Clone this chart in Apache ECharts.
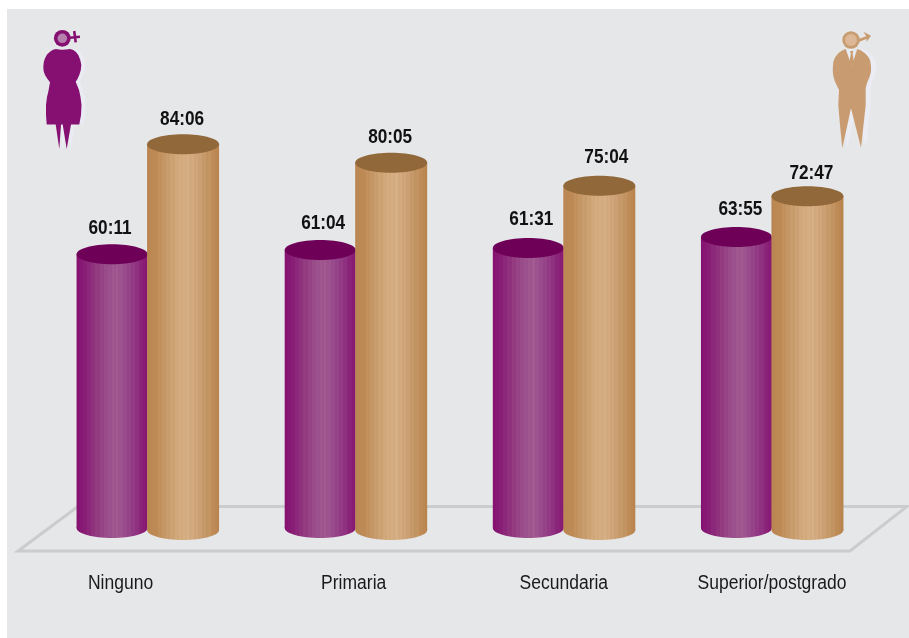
<!DOCTYPE html>
<html><head><meta charset="utf-8">
<style>html,body{margin:0;padding:0;background:#fff}#c{width:909px;height:638px}</style>
<script src="https://cdn.jsdelivr.net/npm/echarts@6/dist/echarts.min.js"></script>
</head><body><div id="c"></div>
<script>
var categories = ['Ninguno','Primaria','Secundaria','Superior/postgrado'];
var mujeresLabels = ['60:11','61:04','61:31','63:55'];
var hombresLabels = ['84:06','80:05','75:04','72:47'];
var mujeres = [60.18,61.07,61.52,63.92];
var hombres = [84.10,80.08,75.07,72.78];

var FONT = '"Liberation Sans",sans-serif';

// Layout nudges, separate from the data
var femaleNudge = {dx:[-2,3,3,4], dy:[-26,-27,-29,-27]};
var maleNudge   = {dx:[-1,-1,7,4], dy:[-25,-25,-28,-23]};
var categoryDx  = [-27,-2,0,0];

function hex(c){return [parseInt(c.substr(1,2),16),parseInt(c.substr(3,2),16),parseInt(c.substr(5,2),16)];}
function ridged(keys){
  var stops=[], steps=34, i;
  for(i=0;i<steps;i++){
    var t=(i+0.5)/steps*(keys.length-1), k=Math.min(Math.floor(t),keys.length-2), f=t-k;
    var a=hex(keys[k]), b=hex(keys[k+1]), d=(i>3&&i<steps-3)?(i%2?2:-2):0;
    var col='rgb('+[0,1,2].map(function(j){return Math.round(a[j]+(b[j]-a[j])*f+d);}).join(',')+')';
    stops.push({offset:i/steps,color:col});
    stops.push({offset:(i+1)/steps,color:col});
  }
  return {type:'linear',x:0,y:0,x2:1,y2:0,colorStops:stops};
}
var femaleKeys=['#841070','#8a2278','#923a80','#9a4e8a','#a0588f','#96468a','#8f3080','#861470'];
var maleKeys=['#b98450','#bf8d59','#c89c6b','#d1a97c','#d5ae83','#cca276','#c39361','#b8824c'];

function cylinder(values, labels, keys, topColor, side, baseLift, rx, nudge){
  var fill = ridged(keys);
  return function(params, api){
    var i = api.value(0);
    var top = api.coord([i, values[i]]);
    var base = api.coord([i, 0]);
    var cx = top[0] + side;
    var baseY = base[1] - baseLift;
    var ry = 10;
    return {type:'group',children:[
      {type:'ellipse',shape:{cx:cx,cy:baseY,rx:rx,ry:ry},style:{fill:fill}},
      {type:'rect',shape:{x:cx-rx,y:top[1],width:rx*2,height:baseY-top[1]},style:{fill:fill}},
      {type:'ellipse',shape:{cx:cx,cy:top[1],rx:rx,ry:ry},style:{fill:topColor}},
      {type:'text',x:cx+nudge.dx[i],y:top[1]+nudge.dy[i],scaleX:0.86,
        style:{text:labels[i],fill:'#111',font:'bold 20px '+FONT,align:'center',verticalAlign:'middle'}}
    ]};
  };
}

function categoryLabel(params, api){
  var i = api.value(0), p = api.coord([i, 0]);
  return {type:'text',x:p[0]+categoryDx[i],y:p[1]+52,scaleX:0.875,
    style:{text:categories[i],fill:'#1a1a1a',font:'20px '+FONT,align:'center',verticalAlign:'middle'}};
}

function pts(s){return s.trim().split(/\s+/).map(function(p){return p.split(',').map(Number);});}
function shift(arr,dx,dy){return arr.map(function(p){return [p[0]+dx,p[1]+dy];});}

var womanBody = pts('55.7,49 59,49.6 62.3,49.8 66,49.6 70,49 73.3,50 76,52 78.3,55 80.3,60 81.3,65 80.8,70 79.3,75 77.5,79 75.7,81.7 77,85 79,90 80.5,97 81.5,105 81,115 79.3,124.5 71,124.5 66.7,149 62.7,124.5 61,124.5 59.3,149 55.7,124.5 46.7,124.5 46,115 46,105 47,97 48.3,91.7 50,82.3 47.5,79 45,75 43.6,71 43.3,66.7 43.8,62 45,58.3 47,54.5 50,51.7 52.5,50');
var manBody = pts('845.7,49 851.7,66 857.3,49 861,50.5 865,53.3 868,56.5 870,60 871,66 871,71.7 869.5,77 867,83 865.7,88.3 865.7,105 863.5,125 861,147.7 851,108.3 842.3,148.3 840,125 838.3,105 839,90 835,81.7 833.3,76 832.7,70 833.3,61.7 835.3,57 838.3,53.3 842,50.5');
var tie = pts('850.2,51 853.2,51 852.6,54 854,62 851.7,66 849.4,62 850.8,54');
var FEMALE='#851072', MALE='#c89c70', SHADOW='#ebebf4';

var gender = [
  {type:'polygon',shape:{points:shift(womanBody,4,0)},style:{fill:SHADOW}},
  {type:'polygon',shape:{points:womanBody},style:{fill:FEMALE}},
  {type:'circle',shape:{cx:62.3,cy:38.3,r:8.4},style:{fill:FEMALE}},
  {type:'circle',shape:{cx:62.3,cy:38.3,r:4.8},style:{fill:'#b77fae'}},
  {type:'line',shape:{x1:70,y1:37.7,x2:80,y2:36.7},style:{stroke:FEMALE,lineWidth:2.6}},
  {type:'line',shape:{x1:74.2,y1:31,x2:75.7,y2:42.3},style:{stroke:FEMALE,lineWidth:2.6}},
  {type:'polygon',shape:{points:shift(manBody,5,0)},style:{fill:SHADOW}},
  {type:'polygon',shape:{points:manBody},style:{fill:MALE}},
  {type:'polygon',shape:{points:tie},style:{fill:MALE}},
  {type:'circle',shape:{cx:851,cy:40,r:8.7},style:{fill:MALE}},
  {type:'circle',shape:{cx:851,cy:40,r:6},style:{fill:'#dcb896'}},
  {type:'line',shape:{x1:858.3,y1:40.7,x2:868.3,y2:36.7},style:{stroke:MALE,lineWidth:2.8}},
  {type:'polygon',shape:{points:[[863.3,31.7],[871,35.7],[866.7,41.7],[866.5,36.5]]},style:{fill:MALE}}
];

var chart = echarts.init(document.getElementById('c'),null,{renderer:'canvas'});
chart.setOption({
  animation:false,
  backgroundColor:'#fff',
  graphic:{elements:[
    {type:'rect',z:-10,shape:{x:7,y:9,width:902,height:629},style:{fill:'#e6e7e9'}},
    {type:'polygon',z:-9,shape:{points:[[18,551],[78,506.5],[907,506.5],[850,551]]},style:{fill:'none',stroke:'#cbcccd',lineWidth:3}}
  ].concat(gender)},
  grid:{left:43.5,right:33,top:71,bottom:107},
  xAxis:{type:'category',data:categories,
    axisLine:{show:false},axisTick:{show:false},axisLabel:{show:false}},
  yAxis:{type:'value',min:0,max:100,show:false,splitLine:{show:false}},
  series:[
    {type:'custom',name:'Mujeres',z:3,data:categories.map(function(c,i){return [i,mujeres[i]];}),
      encode:{x:0,y:1},renderItem:cylinder(mujeres,mujeresLabels,femaleKeys,'#6e0058',-35.5,3,35.5,femaleNudge)},
    {type:'custom',name:'Hombres',z:4,data:categories.map(function(c,i){return [i,hombres[i]];}),
      encode:{x:0,y:1},renderItem:cylinder(hombres,hombresLabels,maleKeys,'#90683a',35.5,1,36,maleNudge)},
    {type:'custom',name:'Etiquetas',z:5,silent:true,data:categories.map(function(c,i){return [i,0];}),
      encode:{x:0,y:1},clip:false,renderItem:categoryLabel}
  ]
});
</script></body></html>
